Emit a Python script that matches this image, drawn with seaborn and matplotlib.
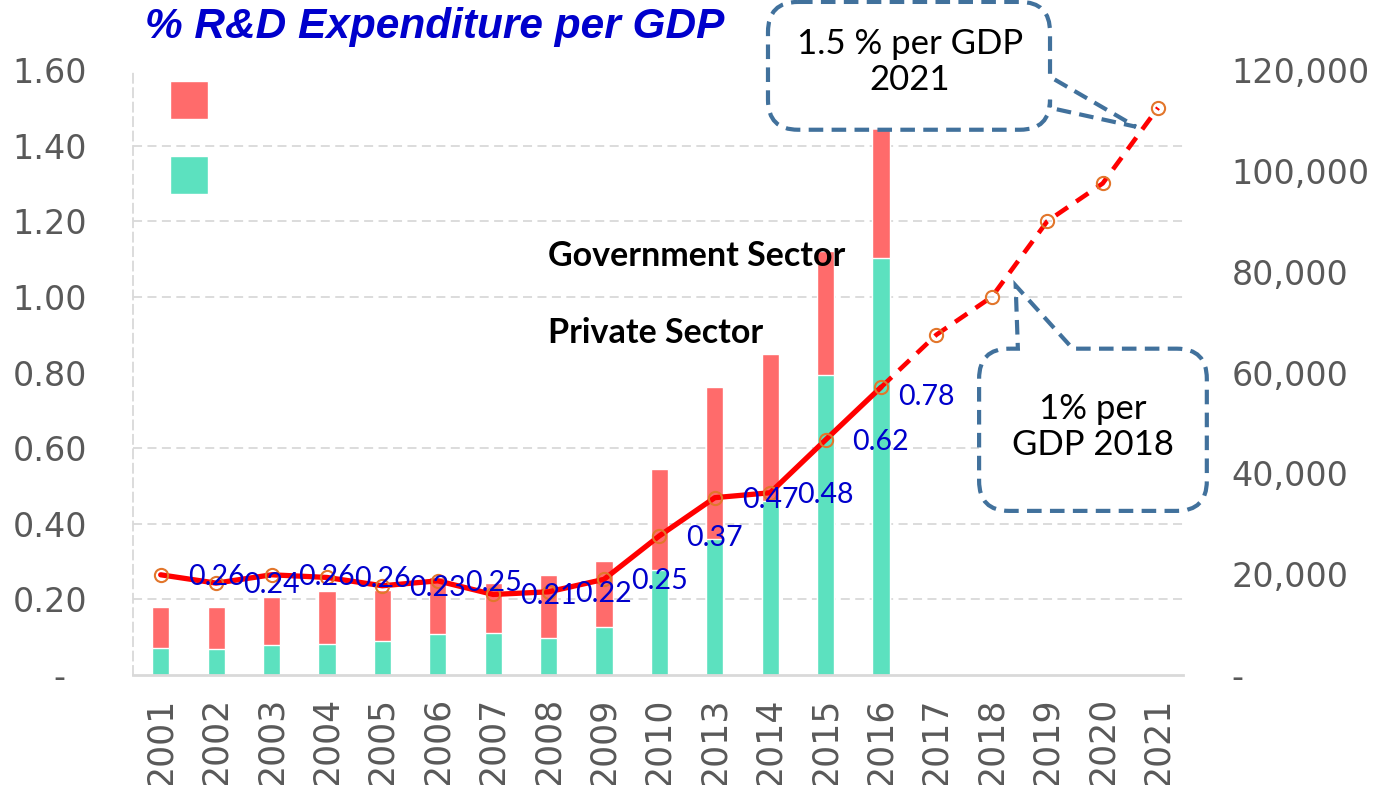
import numpy as np
import pandas as pd
import matplotlib
matplotlib.use("Agg")
import matplotlib.pyplot as plt
import seaborn as sns
from matplotlib.path import Path
from matplotlib.patches import PathPatch, Patch
from matplotlib.ticker import MultipleLocator, FuncFormatter

# ---- data ----
years = ["2001", "2002", "2003", "2004", "2005", "2006", "2007", "2008", "2009", "2010",
         "2013", "2014", "2015", "2016", "2017", "2018", "2019", "2020", "2021"]
bar_years = years[:14]
private = [5400, 5200, 5950, 6150, 6750, 8050, 8250, 7400, 9450, 20800,
           26900, 34500, 59550, 82780]
total = [13550, 13400, 15500, 16650, 16850, 19400, 18300, 19750, 22650, 40900,
         57050, 63600, 84100, 109100]
pct = [0.265, 0.243, 0.265, 0.258, 0.236, 0.249, 0.213, 0.22, 0.253, 0.368,
       0.469, 0.482, 0.622, 0.761, 0.90, 1.00, 1.20, 1.30, 1.50]
pct_labels = ["0.26", "0.24", "0.26", "0.26", "0.23", "0.25", "0.21", "0.22", "0.25",
              "0.37", "0.47", "0.48", "0.62", "0.78"]

RED_BAR = "#FF6B6B"
GREEN_BAR = "#5CE1BF"
GREY = "#595959"
GRID = "#D9D9D9"
CALLOUT = "#41719C"

sns.set_style("white")
plt.rcParams['font.family'] = ['DejaVu Sans']

df = pd.DataFrame({"year": bar_years, "total": total, "private": private})

fig = plt.figure(figsize=(13.73, 7.85), dpi=100)
ax = fig.add_axes([133 / 1373, 110 / 785, 1050 / 1373, 605 / 785])

# stacked bars: total in red, private share in green on top of it
sns.barplot(data=df, x="year", y="total", order=years, color=RED_BAR,
            saturation=1, width=0.31, ax=ax)
sns.barplot(data=df, x="year", y="private", order=years, color=GREEN_BAR,
            saturation=1, width=0.31, ax=ax)

# % line on a twin axis (ticks on the left), money axis on the right
axp = ax.twinx()
ax.yaxis.tick_right()
axp.yaxis.tick_left()

ax.set_ylim(0, 120000)
ax.yaxis.set_major_locator(MultipleLocator(20000))
ax.yaxis.set_major_formatter(FuncFormatter(lambda v, p: "-" if v == 0 else f"{v:,.0f}"))
# gridlines follow the % axis (every 0.2 of 1.6 -> every 15,000)
ax.yaxis.set_minor_locator(MultipleLocator(15000))
ax.grid(False)
ax.grid(which="minor", axis="y", color=GRID, linestyle=(0, (5, 3)), linewidth=1.3)
ax.set_axisbelow(True)
ax.tick_params(axis="y", which="both", length=0, labelsize=24, labelcolor=GREY, pad=35,
               left=False, labelleft=False, right=False, labelright=True)
ax.tick_params(axis="x", length=0, labelsize=25, labelcolor=GREY, pad=16, labelrotation=90)
ax.set_xlabel("")
ax.set_ylabel("")
for s in ["top", "right"]:
    ax.spines[s].set_visible(False)
ax.spines["left"].set_color(GRID)
ax.spines["left"].set_linestyle((0, (5, 3)))
ax.spines["left"].set_linewidth(1.3)
ax.spines["bottom"].set_color(GRID)
ax.spines["bottom"].set_linewidth(2)
ax.set_xlim(-0.5, 18.45)

axp.set_ylim(0, 1.6)
axp.yaxis.set_major_locator(MultipleLocator(0.2))
axp.yaxis.set_major_formatter(FuncFormatter(lambda v, p: "-  " if v == 0 else f"{v:.2f}"))
axp.tick_params(axis="y", length=0, labelsize=24, labelcolor=GREY, pad=33,
                right=False, labelright=False, left=False, labelleft=True)
for s in axp.spines.values():
    s.set_visible(False)

pos = np.arange(len(years))
axp.plot(pos[:14], pct[:14], color="red", linewidth=3.8, solid_capstyle="round", zorder=3)
axp.plot(pos[13:], pct[13:], color="red", linewidth=3.3, linestyle=(0, (3.2, 2.2)), zorder=3)
axp.plot(pos, pct, linestyle="none", marker="o", markersize=9.5, markerfacecolor="none",
         markeredgecolor="#E2762B", markeredgewidth=1.5, zorder=4)

for i, lab in enumerate(pct_labels):
    off = (17, -10) if i == len(pct_labels) - 1 else (27, -2)
    axp.annotate(lab, (pos[i], pct[i]), xytext=off, textcoords="offset pixels",
                 ha="left", va="center", fontsize=20.5, color="#0000CC", family="Lato",
                 zorder=5)

# legend squares (labels are written separately in the plot)
ax.legend(handles=[Patch(facecolor=RED_BAR), Patch(facecolor=GREEN_BAR)], labels=["", ""],
          loc="upper left", bbox_to_anchor=(37 / 1050, 1 - 11 / 605), frameon=False,
          fontsize=20, handlelength=1.37, handleheight=1.7, labelspacing=1.36,
          borderpad=0, borderaxespad=0, handletextpad=0)

axp.text(6.99, 1.108, "Government Sector", fontsize=24.5, fontweight="bold", family="Lato",
         ha="left", va="center", color="black", zorder=6)
axp.text(6.99, 0.905, "Private Sector", fontsize=24.5, fontweight="bold", family="Lato",
         ha="left", va="center", color="black", zorder=6)

fig.text(435 / 1373, 1 - 27 / 785, "% R&D Expenditure per GDP", fontsize=30.5,
         fontweight="bold", fontstyle="italic", family="Liberation Sans",
         color="#0000CC", ha="center", va="center")


# ---- callout bubbles ----
def bubble(x0, y0, x1, y1, tail, side, r=30):
    rx, ry = r / 55.4, r / 378.0
    v = [(x0 + rx, y1)]
    if side == "top":
        v += tail
    v += [(x1 - rx, y1), (x1, y1), (x1, y1 - ry)]
    if side == "right":
        v += tail
    v += [(x1, y0 + ry), (x1, y0), (x1 - rx, y0),
          (x0 + rx, y0), (x0, y0), (x0, y0 + ry),
          (x0, y1 - ry), (x0, y1), (x0 + rx, y1)]
    codes = [Path.MOVETO]
    if side == "top":
        codes += [Path.LINETO] * len(tail)
    codes += [Path.LINETO, Path.CURVE3, Path.CURVE3]
    if side == "right":
        codes += [Path.LINETO] * len(tail)
    codes += [Path.LINETO, Path.CURVE3, Path.CURVE3,
              Path.LINETO, Path.CURVE3, Path.CURVE3,
              Path.LINETO, Path.CURVE3, Path.CURVE3]
    patch = PathPatch(Path(v, codes), facecolor="white", edgecolor=CALLOUT,
                      linewidth=3, linestyle=(0, (3.5, 2)), clip_on=False, zorder=7)
    axp.add_patch(patch)


bubble(10.96, 1.442, 16.05, 1.78, [(16.05, 1.582), (pos[18] - 0.4, pct[18] - 0.05), (16.05, 1.50)], "right")
axp.text(13.52, 1.622, "1.5 % per GDP\n2021", fontsize=25, family="Lato", ha="center",
         va="center", linespacing=1.15, color="black", zorder=8)

bubble(14.77, 0.434, 18.88, 0.863, [(15.47, 0.863), (pos[15] + 0.43, pct[15] + 0.03), (16.46, 0.863)], "top")
axp.text(16.82, 0.656, "1% per\nGDP 2018", fontsize=25, family="Lato", ha="center",
         va="center", linespacing=1.15, color="black", zorder=8)

fig.savefig("out.png", dpi=100)
